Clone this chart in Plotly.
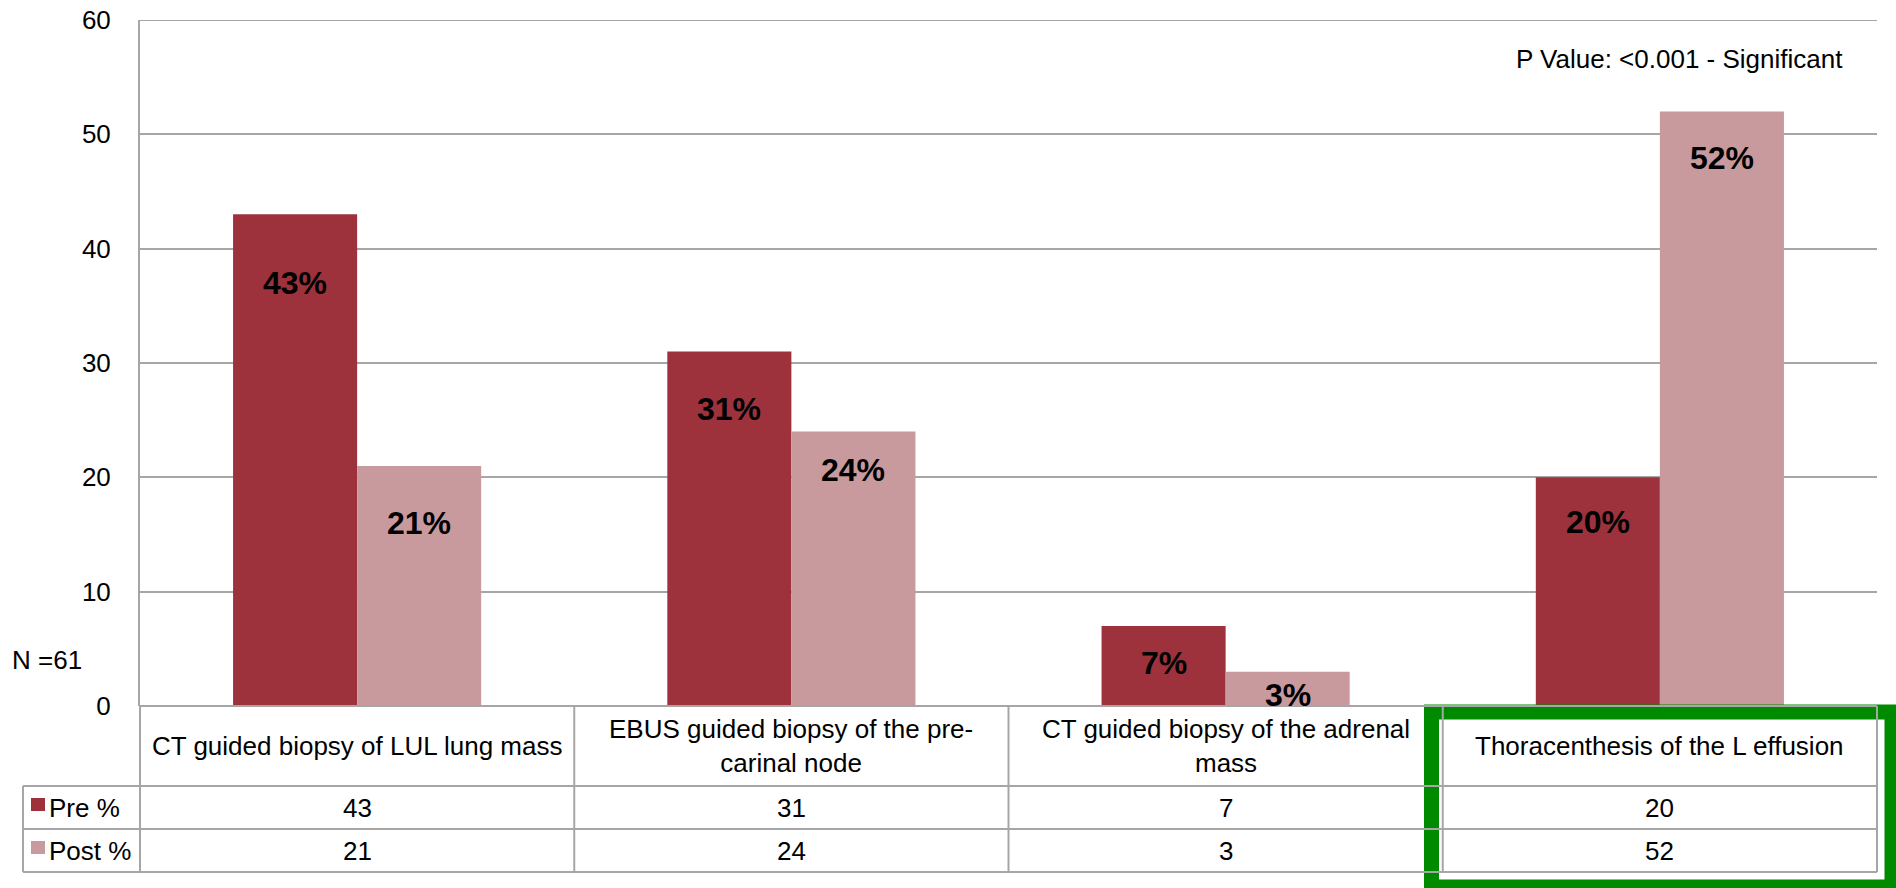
import plotly.graph_objects as go

# ---- data ----
categories = ["CT guided biopsy of LUL lung mass",
              "EBUS guided biopsy of the pre-carinal node",
              "CT guided biopsy of the adrenal mass",
              "Thoracenthesis of the L effusion"]
category_labels = ["CT guided biopsy of LUL lung mass",
                   "EBUS guided biopsy of the pre-<br>carinal node",
                   "CT guided biopsy of the adrenal<br>mass",
                   "Thoracenthesis of the L effusion"]
series_names = ["Pre %", "Post %"]
pre_values = [43, 31, 7, 20]
post_values = [21, 24, 3, 52]
y_ticks = [0, 10, 20, 30, 40, 50, 60]
note_text = "P Value: <0.001 - Significant"
n_text = "N =61"

# ---- style ----
PRE_COLOR = "#9D323C"
POST_COLOR = "#C89A9D"
GRID = "#A6A6A6"
GREEN = "#008A00"
FONT = "Liberation Sans, Arial, sans-serif"
FS = 26
# label drop below bar top (data units)
pre_drop = [6.0, 5.0, 3.2, 3.9]
post_drop = [5.0, 3.4, 2.0, 4.1]

W_FIG, H_FIG = 1896, 888
L, T, R, B = 140, 20, 19, 182
PW = W_FIG - L - R
PH = H_FIG - T - B
BARGAP = 0.4286
bar_px = PW / len(categories) * (1 - BARGAP) / 2


def px(x):
    return (x - L) / PW


def py(y):
    return (T + PH - y) / PH


fig = go.Figure()
fig.add_trace(go.Bar(x=categories, y=pre_values, name=series_names[0],
                     marker=dict(color=PRE_COLOR, line=dict(width=0))))
fig.add_trace(go.Bar(x=categories, y=post_values, name=series_names[1],
                     marker=dict(color=POST_COLOR, line=dict(width=0))))

annotations = []
# bar value labels
for c, v, d in zip(categories, pre_values, pre_drop):
    annotations.append(dict(x=c, y=v - d, xref="x", yref="y", text=f"<b>{v}%</b>",
                            showarrow=False, xshift=-bar_px / 2,
                            font=dict(family=FONT, size=32, color="black")))
for c, v, d in zip(categories, post_values, post_drop):
    annotations.append(dict(x=c, y=v - d, xref="x", yref="y", text=f"<b>{v}%</b>",
                            showarrow=False, xshift=bar_px / 2,
                            font=dict(family=FONT, size=32, color="black")))
# table header and values
for c, lab, a, b in zip(categories, category_labels, pre_values, post_values):
    annotations.append(dict(x=c, y=py(746), xref="x", yref="paper", text=lab,
                            showarrow=False, yanchor="middle",
                            font=dict(family=FONT, size=FS, color="black")))
    annotations.append(dict(x=c, y=py(807.5), xref="x", yref="paper", text=str(a),
                            showarrow=False, yanchor="middle",
                            font=dict(family=FONT, size=FS, color="black")))
    annotations.append(dict(x=c, y=py(850.5), xref="x", yref="paper", text=str(b),
                            showarrow=False, yanchor="middle",
                            font=dict(family=FONT, size=FS, color="black")))
# legend keys text
annotations.append(dict(x=px(47), y=py(807.5), xref="paper", yref="paper", text=series_names[0],
                        showarrow=False, xanchor="left", yanchor="middle",
                        font=dict(family=FONT, size=FS, color="black")))
annotations.append(dict(x=px(47), y=py(850.5), xref="paper", yref="paper", text=series_names[1],
                        showarrow=False, xanchor="left", yanchor="middle",
                        font=dict(family=FONT, size=FS, color="black")))
# notes
annotations.append(dict(x=px(1845), y=py(59), xref="paper", yref="paper", text=note_text,
                        showarrow=False, xanchor="right", yanchor="middle",
                        font=dict(family=FONT, size=FS, color="black")))
annotations.append(dict(x=px(10), y=py(660), xref="paper", yref="paper", text=n_text,
                        showarrow=False, xanchor="left", yanchor="middle",
                        font=dict(family=FONT, size=FS, color="black")))

shapes = []
line_style = dict(color=GRID, width=2)
# top gridline (at axis maximum)
shapes.append(dict(type="line", xref="paper", yref="y", x0=0, x1=1,
                   y0=y_ticks[-1], y1=y_ticks[-1], line=line_style, layer="below"))
# green highlight box
shapes.append(dict(type="rect", xref="paper", yref="paper",
                   x0=px(1431.5), x1=px(1892), y0=py(712), y1=py(887),
                   line=dict(color=GREEN, width=15), fillcolor="rgba(0,0,0,0)", layer="above"))
# table lines
shapes.append(dict(type="line", xref="paper", yref="paper", x0=px(140), x1=px(1877),
                   y0=py(706), y1=py(706), line=line_style))
for yy in (786, 829, 872):
    shapes.append(dict(type="line", xref="paper", yref="paper", x0=px(23), x1=px(1877),
                       y0=py(yy), y1=py(yy), line=line_style))
shapes.append(dict(type="line", xref="paper", yref="paper", x0=px(23), x1=px(23),
                   y0=py(786), y1=py(872), line=line_style))
ncat = len(categories)
for k in range(ncat + 1):
    xx = k / ncat
    shapes.append(dict(type="line", xref="paper", yref="paper", x0=xx, x1=xx,
                       y0=py(706), y1=py(872), line=line_style))
# legend keys
shapes.append(dict(type="rect", xref="paper", yref="paper", x0=px(31), x1=px(45),
                   y0=py(798), y1=py(811), fillcolor=PRE_COLOR, line=dict(width=0)))
shapes.append(dict(type="rect", xref="paper", yref="paper", x0=px(31), x1=px(45),
                   y0=py(841), y1=py(854), fillcolor=POST_COLOR, line=dict(width=0)))

fig.update_layout(
    width=W_FIG, height=H_FIG,
    margin=dict(l=L, r=R, t=T, b=B, pad=0, autoexpand=False),
    paper_bgcolor="white", plot_bgcolor="white",
    barmode="group", bargap=BARGAP, bargroupgap=0,
    showlegend=False,
    font=dict(family=FONT, size=FS, color="black"),
    xaxis=dict(showticklabels=False, showgrid=False, showline=False, ticks="",
               range=[-0.5, ncat - 0.5], zeroline=False, automargin=False),
    yaxis=dict(range=[0, 60], tickvals=y_ticks, showgrid=True, gridcolor=GRID, gridwidth=2,
               showline=True, linecolor=GRID, linewidth=2, zeroline=False, ticks="",
               automargin=False,
               ticklabelstandoff=22, tickfont=dict(family=FONT, size=FS, color="black")),
    annotations=annotations,
    shapes=shapes,
)

fig.write_html("out.html")
